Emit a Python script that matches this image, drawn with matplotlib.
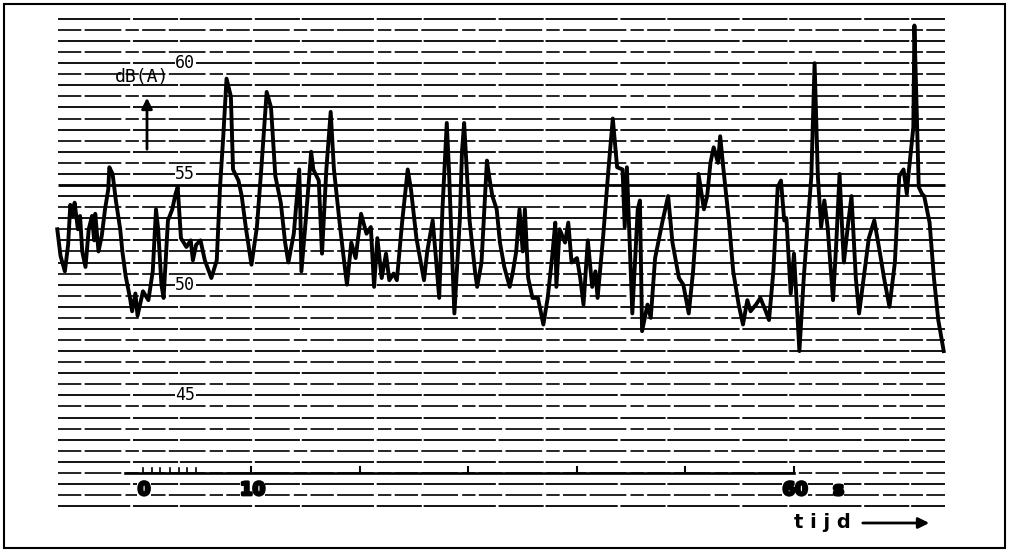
import numpy as np
import matplotlib
matplotlib.use('Agg')
import matplotlib.pyplot as plt
import matplotlib.patheffects as pe
from matplotlib.patches import Rectangle

tijd = [-7.9, -7.6, -7.2, -6.9, -6.7, -6.5, -6.3, -6.0, -5.8, -5.6, -5.3, -5.0, -4.7, -4.5, -4.4,
        -4.1, -3.8, -3.5, -3.2, -3.1, -2.8, -2.5, -2.1, -1.9, -1.6, -1.2, -1.0, -0.7, -0.5, 0.0,
        0.5, 0.9, 1.2, 1.4, 1.7, 1.9, 2.3, 2.7, 3.0, 3.2, 3.5, 4.0, 4.4, 4.6, 4.9, 5.3,
        5.7, 6.3, 6.8, 7.1, 7.4, 7.7, 8.1, 8.3, 8.8, 9.1, 9.5, 10.0, 10.5, 10.9, 11.4, 11.8,
        12.2, 12.7, 13.1, 13.4, 13.9, 14.4, 14.5, 14.6, 15.0, 15.5, 15.7, 16.2, 16.5, 16.9,
        17.3, 17.6, 18.1, 18.5, 18.8,
        19.2, 19.6, 20.1, 20.6, 21.0, 21.3, 21.6, 22.0, 22.4, 22.7, 23.1, 23.4, 23.9, 24.4,
        24.7, 25.2, 25.6, 25.9, 26.2, 26.7, 27.0, 27.3, 27.6, 28.0, 28.2, 28.5, 28.7, 29.2,
        29.4, 29.6, 30.1, 30.6, 30.8, 31.2, 31.7, 31.9, 32.2,
        32.6, 32.9, 33.3, 33.8, 34.1, 34.4, 34.7, 35.0, 35.2, 35.5, 35.9, 36.4, 36.9, 37.3,
        37.7, 38.0, 38.1, 38.4, 38.9, 39.2, 39.5, 40.0, 40.3, 40.6, 41.0, 41.4, 41.7, 41.9,
        42.4, 42.9, 43.3, 43.7, 44.2, 44.4, 44.6, 45.1, 45.6, 45.8,
        46.0, 46.5, 46.8, 47.2, 47.9, 48.4, 48.8, 49.4, 49.8, 50.3, 50.7, 51.1, 51.2, 51.7,
        52.0, 52.3, 52.6, 53.0, 53.2, 53.5, 54.0, 54.4, 54.9, 55.3, 55.7, 56.0, 56.5, 56.9,
        57.4, 57.7, 58.1, 58.5, 58.8, 59.1,
        59.3, 59.7, 60.0, 60.5, 60.9, 61.6, 61.9, 62.2, 62.5, 62.8, 63.1, 63.6, 63.9, 64.2,
        64.5, 64.6, 65.0, 65.3, 65.7, 66.0, 66.5, 66.9, 67.4, 67.9, 68.3, 68.8, 69.3, 69.7,
        70.1, 70.4, 70.6, 71.0, 71.1, 71.5, 71.8, 72.0, 72.5, 72.9, 73.3, 73.8]
niveau = [53.0, 51.8, 51.1, 52.3, 54.1, 53.6, 54.2, 53.0, 53.6, 52.0, 51.3, 53.0, 53.6, 52.5, 53.7,
          52.0, 52.7, 53.9, 54.8, 55.8, 55.5, 54.3, 53.0, 52.0, 50.9, 49.9, 49.3, 50.1, 49.1, 50.2,
          49.8, 51.1, 53.9, 53.0, 50.5, 49.9, 53.4, 53.9, 54.6, 54.9, 52.6, 52.2, 52.5, 51.6, 52.3, 52.5,
          51.6, 50.8, 51.6, 54.9, 57.2, 59.8, 59.0, 55.7, 55.2, 54.5, 53.0, 51.4, 53.1, 55.7, 59.2, 58.5,
          55.4, 54.2, 52.4, 51.5, 52.8, 55.7, 53.9, 51.1, 53.4, 56.5, 55.7, 55.2, 51.9, 55.7,
          58.3, 55.7, 53.4, 51.7, 50.5,
          52.4, 51.7, 53.7, 52.8, 53.1, 50.4, 52.6, 50.8, 51.9, 50.7, 51.0, 50.7, 53.4, 55.7,
          54.8, 52.6, 51.5, 50.7, 52.0, 53.4, 51.7, 49.9, 53.9, 57.8, 55.7, 51.7, 49.2, 53.4,
          56.5, 57.8, 53.4, 51.1, 50.4, 51.5, 56.1, 55.4, 54.5,
          53.9, 52.4, 51.3, 50.4, 51.1, 52.0, 53.9, 52.0, 53.9, 50.8, 49.9, 49.9, 48.7, 49.9,
          51.7, 53.3, 50.4, 53.0, 52.4, 53.3, 51.5, 51.7, 50.8, 49.6, 52.5, 50.4, 51.1, 49.9,
          52.6, 55.7, 58.0, 55.8, 55.7, 53.1, 55.8, 49.2, 53.9, 54.3,
          48.4, 49.6, 49.0, 51.7, 53.4, 54.5, 52.4, 50.8, 50.5, 49.2, 51.1, 53.9, 55.5, 53.9,
          54.5, 56.0, 56.7, 56.0, 57.2, 55.7, 53.4, 51.1, 49.6, 48.7, 49.8, 49.3, 49.6, 49.9,
          49.3, 48.9, 51.1, 54.9, 55.2, 53.4,
          53.5, 50.1, 51.9, 47.5, 50.8, 55.4, 60.5, 55.4, 53.1, 54.3, 53.1, 49.8, 52.4, 55.5,
          52.4, 51.5, 53.3, 54.5, 50.8, 49.2, 51.1, 52.6, 53.4, 52.0, 50.8, 49.5, 51.5, 55.4,
          55.7, 54.6, 55.7, 57.6, 62.2, 54.9, 54.6, 54.5, 53.3, 50.8, 48.9, 47.5]

y_labels = [60, 55, 50, 45]
x_labels = [0, 10, 60]
major_ticks = [10, 20, 30, 40, 50, 60]
minor_ticks = [0, 0.8, 1.6, 2.5, 3.3, 4.1, 4.9]

fig = plt.figure(figsize=(10.1, 5.52), dpi=100)
ax = fig.add_axes([50 / 1010, 37 / 552, 900 / 1010, 505 / 552])
ax.set_xlim(-8.57, 74.38)
ax.set_ylim(40.10, 62.90)
ax.axis('off')

# paper grid, every half dB
lines = np.arange(40.5, 62.6, 0.5)
for i, lv in enumerate(lines):
    if lv == 55:
        ax.hlines(lv, -7.85, 73.9, color='k', lw=2.0)
    elif i % 2 == 0:
        ax.hlines(lv, -7.85, 73.9, color='k', lw=1.3, linestyles=(0, (40, 1.5, 25, 1)))
    else:
        ax.hlines(lv, -7.85, 73.9, color='k', lw=1.2, linestyles=(0, (14, 2, 22, 2.5, 8, 2)))

# time scale
ax.plot([-1.7, 60], [42, 42], color='k', lw=1.9)
for t in major_ticks:
    ax.plot([t, t], [42, 42.25], color='k', lw=1.5)
for t in minor_ticks:
    ax.plot([t, t], [42, 42.2], color='k', lw=1.2)

ax.plot(tijd, niveau, color='k', lw=2.8, solid_joinstyle='round')

for v in y_labels:
    ax.text(3.9, v + 0.5, str(v), ha='center', va='center', fontsize=12,
            family='DejaVu Sans Mono',
            bbox=dict(facecolor='white', edgecolor='none', pad=0.5))

bold = [pe.withStroke(linewidth=2, foreground='k')]
for t in x_labels:
    ax.text(t + 0.1, 41.23, str(t), ha='center', va='center', fontsize=13,
            fontweight='heavy', path_effects=bold,
            bbox=dict(facecolor='white', edgecolor='none', pad=0.3))
ax.text(64.1, 41.23, 's', ha='center', va='center', fontsize=13,
        fontweight='heavy', path_effects=bold,
        bbox=dict(facecolor='white', edgecolor='none', pad=0.3))

fig.text(142 / 1010, 1 - 77 / 552, 'dB(A)', ha='center', va='center', fontsize=13,
         family='DejaVu Sans Mono')
ax.annotate('', xy=(147, 552 - 95), xytext=(147, 552 - 152),
            xycoords='figure pixels', textcoords='figure pixels',
            arrowprops=dict(arrowstyle='-|>', color='k', lw=2, mutation_scale=16))

fig.text(822 / 1010, 1 - 523 / 552, 't i j d', ha='center', va='center', fontsize=14,
         fontweight='bold')
ax.annotate('', xy=(932, 552 - 523), xytext=(860, 552 - 523),
            xycoords='figure pixels', textcoords='figure pixels',
            arrowprops=dict(arrowstyle='-|>', color='k', lw=2, mutation_scale=16))

fig.add_artist(Rectangle((4 / 1010, 4 / 552), 1001 / 1010, 544 / 552,
                         transform=fig.transFigure, fill=False, ec='k', lw=1.5))

fig.savefig('out.png', dpi=100)
